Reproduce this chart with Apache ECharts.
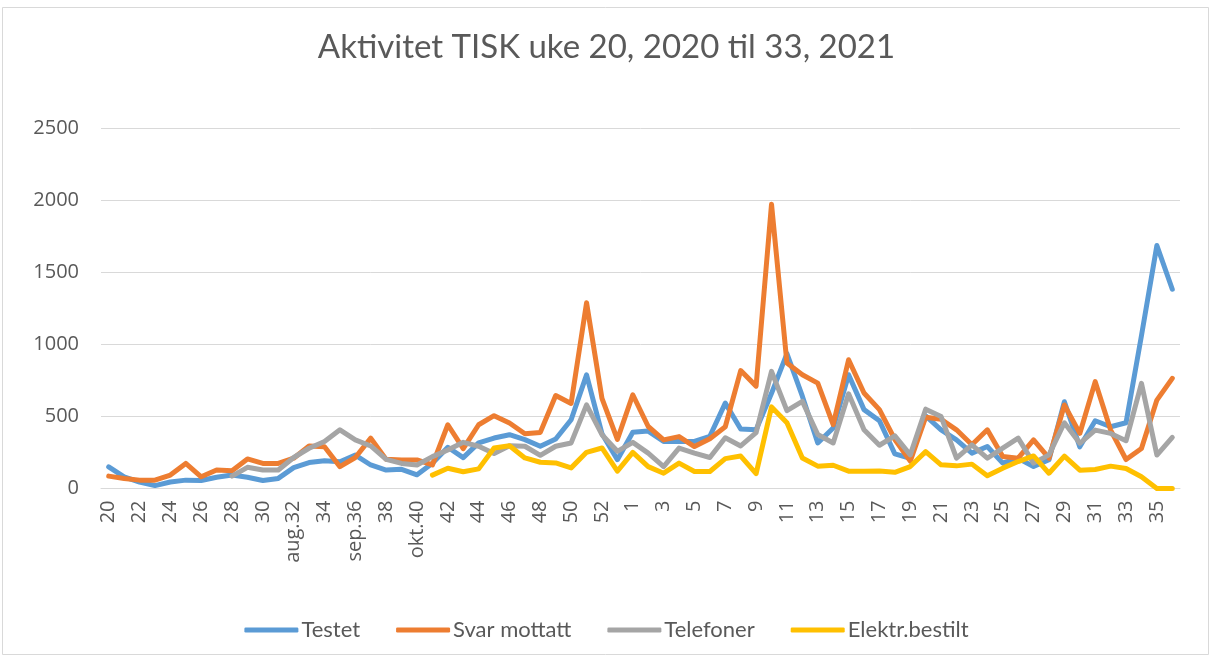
<!DOCTYPE html>
<html>
<head>
<meta charset="utf-8">
<script src="https://cdn.jsdelivr.net/npm/echarts@6/dist/echarts.min.js"></script>
<style>
  html, body { margin: 0; padding: 0; background: #ffffff; }
  #chart { width: 1213px; height: 659px; }
</style>
</head>
<body>
<div id="chart"></div>
<script>
// Week categories: week 20-53 of 2020, then week 1-36 of 2021
const categories = [
  '20','21','22','23','24','25','26','27','28','29','30','31','aug.32','33','34','35',
  'sep.36','37','38','39','okt.40','41','42','43','44','45','46','47','48','49','50','51','52','53',
  '1','2','3','4','5','6','7','8','9','10','11','12','13','14','15','16','17','18',
  '19','20','21','22','23','24','25','26','27','28','29','30','31','32','33','34','35','36'
];

const testet = [
  150,80,45,20,45,58,55,78,93,78,55,70,145,180,193,186,232,163,128,133,95,175,286,214,316,350,373,339,293,343,477,788,380,200,
  390,398,326,326,326,362,592,412,408,660,935,640,316,420,789,547,470,240,210,503,407,337,245,291,176,210,152,199,602,289,470,428,456,1060,1685,1382
];

const svarMottatt = [
  86,70,58,58,93,174,81,128,123,205,174,174,210,295,290,151,215,349,202,198,198,163,442,276,442,505,454,380,389,645,590,1288,625,340,
  650,430,337,360,291,345,428,818,710,1972,870,789,731,443,893,662,547,340,190,494,480,407,303,407,222,210,337,210,579,382,741,405,201,278,613,764
];

const telefoner = [
  null,null,null,null,null,null,null,null,86,147,128,128,215,279,326,407,337,295,202,174,163,221,267,320,293,242,297,293,230,293,316,580,373,258,
  320,245,152,280,245,215,352,295,387,812,540,604,374,316,657,408,300,365,233,550,499,210,303,210,280,349,176,233,456,313,405,382,331,729,232,354
];

const elektrBestilt = [
  null,null,null,null,null,null,null,null,null,null,null,null,null,null,null,null,null,null,null,null,null,93,140,116,136,281,297,212,182,177,143,251,281,120,
  250,152,106,176,118,118,207,225,103,566,456,212,155,161,120,120,122,112,152,256,164,157,169,88,141,187,226,106,225,127,132,155,139,81,0,0
];

const yTicks = { min: 0, max: 2500, interval: 500 };

const seriesNames = ['Testet', 'Svar mottatt', 'Telefoner', 'Elektr.bestilt'];
const seriesData = [testet, svarMottatt, telefoner, elektrBestilt];
const colors = ['#5B9BD5', '#ED7D31', '#A5A5A5', '#FFC000'];

const chart = echarts.init(document.getElementById('chart'), null, { renderer: 'canvas' });

const textColor = '#595959';
const fontFam = 'Lato, "Open Sans", sans-serif';

chart.setOption({
  animation: false,
  backgroundColor: '#ffffff',
  color: colors,
  title: {
    text: 'Aktivitet TISK uke 20, 2020 til 33, 2021',
    left: 'center',
    top: 26,
    textStyle: { color: textColor, fontSize: 33, fontWeight: 'normal', fontFamily: fontFam }
  },
  graphic: [{
    type: 'rect',
    silent: true,
    shape: { x: 2.5, y: 7.5, width: 1206, height: 647 },
    style: { fill: 'none', stroke: '#d9d9d9', lineWidth: 1 }
  }],
  legend: {
    data: seriesNames,
    left: 'center',
    top: 614,
    icon: 'roundRect',
    itemWidth: 54,
    itemHeight: 5,
    itemGap: 36,
    textStyle: { color: textColor, fontSize: 22, fontFamily: fontFam, padding: [0, 0, 0, -2] }
  },
  grid: { left: 101, right: 33, top: 128, bottom: 170.5, containLabel: false },
  xAxis: {
    type: 'category',
    data: categories,
    boundaryGap: true,
    axisLine: { show: true, lineStyle: { color: '#d9d9d9', width: 1 } },
    axisTick: { show: false },
    axisLabel: {
      interval: 1,
      rotate: 90,
      margin: 12,
      color: textColor,
      fontSize: 20,
      fontFamily: '"Open Sans", sans-serif'
    }
  },
  yAxis: {
    type: 'value',
    min: yTicks.min,
    max: yTicks.max,
    interval: yTicks.interval,
    axisLine: { show: false },
    axisTick: { show: false },
    splitLine: { lineStyle: { color: '#d9d9d9', width: 1 } },
    axisLabel: {
      color: textColor, fontSize: 20, margin: 22, fontFamily: '"Open Sans", sans-serif',
      formatter: function (v) { return String(v); }
    }
  },
  series: seriesNames.map((name, i) => ({
    name: name,
    type: 'line',
    data: seriesData[i],
    symbol: 'none',
    smooth: false,
    connectNulls: false,
    lineStyle: { width: 5, color: colors[i], cap: 'round', join: 'round' },
    itemStyle: { color: colors[i] }
  }))
});
</script>
</body>
</html>
